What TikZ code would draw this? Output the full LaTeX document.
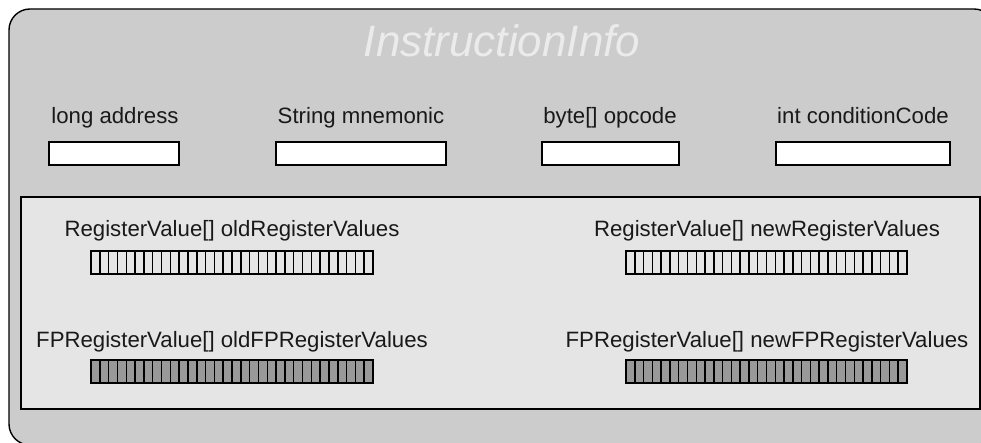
\documentclass[tikz,border=0pt]{standalone}
\usepackage{fontspec}
\setmainfont{Liberation Sans}
\begin{document}
\begin{tikzpicture}[x=1pt,y=-1pt,
  lbl/.style={anchor=base,inner sep=0pt,font=\fontsize{22.2}{24}\selectfont,text=black!90},
  field/.style={draw=black,line width=1.4pt,fill=white},
  cellR/.style={draw=black,line width=1.5pt,fill=black!10},
  cellF/.style={draw=black,line width=1.5pt,fill=black!40}]
\useasboundingbox (0,0) rectangle (981,443);
\begin{scope}
\clip (0,0) rectangle (981,443);
\draw[line width=1.4pt,fill=black!20,rounded corners=21pt] (9,9) rectangle (995,445);
\end{scope}
\node[anchor=base,inner sep=0pt,font=\fontsize{44}{48}\selectfont\itshape,text=black!8] (title) at (502,57) {InstructionInfo};
% fields
\node[lbl] (l1) at (115,124) {long address};
\node[lbl] (l2) at (361,124) {String mnemonic};
\node[lbl] (l3) at (610,124) {byte[] opcode};
\node[lbl] (l4) at (863,124) {int conditionCode};
\draw[field] (49,142) rectangle (179,165);
\draw[field] (276,142) rectangle (446,165);
\draw[field] (542,142) rectangle (679,165);
\draw[field] (776,142) rectangle (950,165);
% inner box
\draw[line width=1.4pt,fill=black!10] (21,197) rectangle (980,409);
\node[lbl] (r1) at (232,237) {RegisterValue[] oldRegisterValues};
\node[lbl] (r2) at (767,237) {RegisterValue[] newRegisterValues};
\node[lbl] (r3) at (232,347) {FPRegisterValue[] oldFPRegisterValues};
\node[lbl] (r4) at (767,347) {FPRegisterValue[] newFPRegisterValues};
\foreach \i in {0,...,31}{
  \draw[cellR] ({91+\i*8.8125},251) rectangle ({91+(\i+1)*8.8125},274);
  \draw[cellR] ({626+\i*8.78},251) rectangle ({626+(\i+1)*8.78},274);
  \draw[cellF] ({91+\i*8.8125},360) rectangle ({91+(\i+1)*8.8125},383);
  \draw[cellF] ({626+\i*8.78},360) rectangle ({626+(\i+1)*8.78},383);
}
\end{tikzpicture}
\end{document}
